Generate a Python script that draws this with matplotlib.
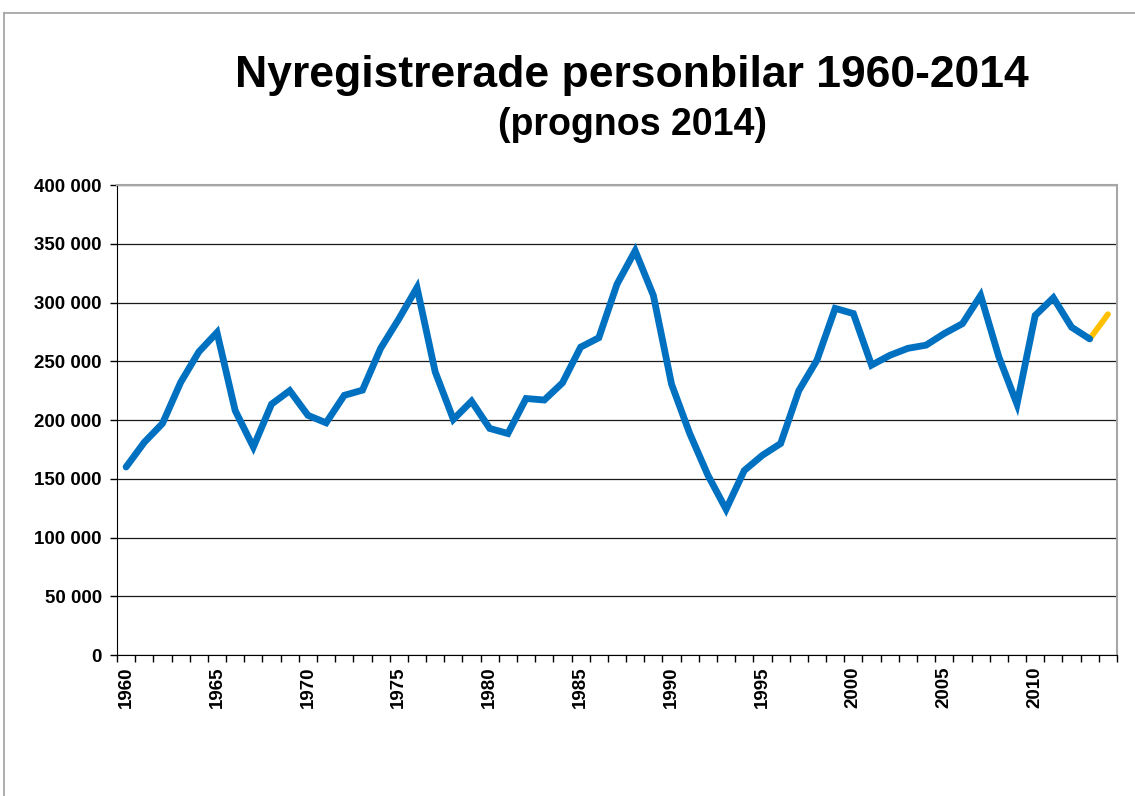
import matplotlib
matplotlib.use('Agg')
import matplotlib.pyplot as plt
from matplotlib.lines import Line2D
from matplotlib.ticker import FuncFormatter, MultipleLocator
import numpy as np

# data (antal nyregistrerade personbilar)
years = list(range(1960, 2015))
values = [160000, 181000, 197000, 232000, 258000, 274500, 208000, 177000, 213500, 225000,
          204000, 197600, 221000, 225400, 261000, 286000, 312700, 241000, 200500, 216000,
          192800, 188500, 218300, 217000, 231600, 262000, 270000, 315600, 344000, 306000,
          230500, 188500, 153000, 124000, 157000, 170000, 180000, 225000, 251000, 295000,
          290600, 246700, 255000, 261000, 263700, 273600, 282000, 306000, 253800, 213500,
          289000, 304000, 279000, 269000, 290000]
forecast_from = 2013

title = 'Nyregistrerade personbilar 1960-2014'
subtitle = '(prognos 2014)'

plt.rcParams['font.family'] = ['Liberation Sans', 'DejaVu Sans']

fig = plt.figure(figsize=(11.35, 7.96), dpi=100)
ax = fig.add_axes([117 / 1135, 1 - 655 / 796, 1000 / 1135, 470 / 796])

x = np.arange(len(years))
k = years.index(forecast_from)

ax.plot(x[:k + 1], values[:k + 1], color='#0070C0', linewidth=4.9,
        solid_capstyle='round', solid_joinstyle='miter', zorder=3)
ax.plot(x[k:], values[k:], color='#FFC000', linewidth=4.2,
        solid_capstyle='round', zorder=2)

ax.set_xlim(-0.5, len(years) - 0.5)
ax.set_ylim(0, 400000)

# y axis
ax.yaxis.set_major_locator(MultipleLocator(50000))
ax.yaxis.set_major_formatter(FuncFormatter(lambda v, p: f'{int(v):,}'.replace(',', ' ')))
ax.grid(axis='y', color='#1a1a1a', linewidth=0.9, zorder=1)

# x axis: labels every 5 years, ticks between categories
ax.set_xticks(x[::5])
ax.set_xticklabels([str(y) for y in years[::5]], rotation=90)
ax.set_xticks(np.arange(-0.5, len(years), 1), minor=True)
ax.tick_params(axis='x', which='major', length=0, pad=8)
ax.tick_params(axis='x', which='minor', length=5, width=1, direction='out')
ax.tick_params(axis='y', which='major', length=5, width=1, direction='out', pad=6)

for lab in ax.get_xticklabels() + ax.get_yticklabels():
    lab.set_fontweight('bold')
    lab.set_fontsize(13.5)

ax.spines['left'].set_color('black')
ax.spines['bottom'].set_color('black')
ax.spines['top'].set_color('#a6a6a6')
ax.spines['right'].set_color('#a6a6a6')
ax.spines['top'].set_linewidth(1.5)
ax.spines['right'].set_linewidth(1.5)

# titles
fig.text(632 / 1135, 1 - 76 / 796, title, ha='center', va='center',
         fontsize=32, fontweight='bold')
fig.text(633 / 1135, 1 - 125 / 796, subtitle, ha='center', va='center',
         fontsize=27, fontweight='bold')

# outer chart border (cut off at right/bottom)
fig.add_artist(Line2D([4 / 1135, 1.0], [1 - 13 / 796, 1 - 13 / 796],
                      transform=fig.transFigure, color='#a0a0a0', linewidth=1.2))
fig.add_artist(Line2D([4 / 1135, 4 / 1135], [0.0, 1 - 13 / 796],
                      transform=fig.transFigure, color='#a0a0a0', linewidth=1.2))

fig.savefig('out.png', dpi=100, facecolor='white')
